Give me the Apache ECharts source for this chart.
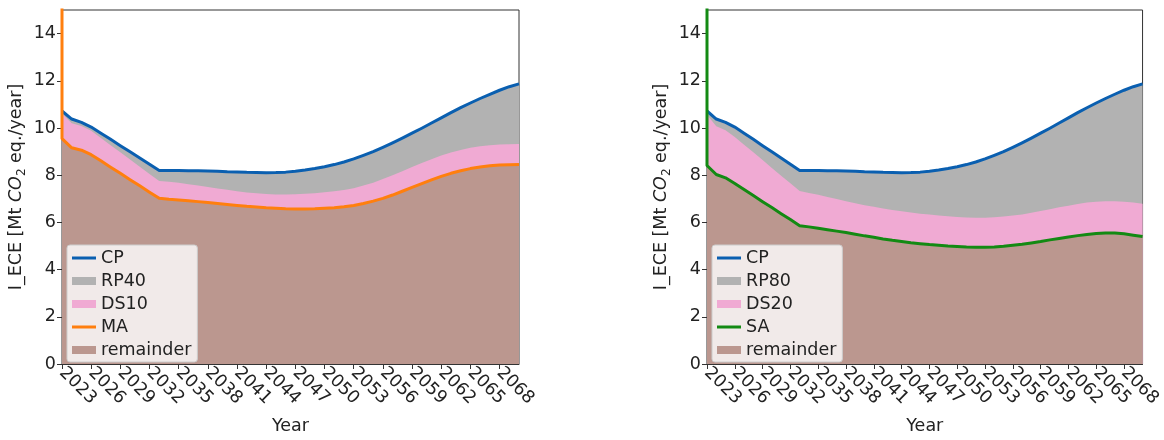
<!DOCTYPE html>
<html>
<head>
<meta charset="utf-8">
<script src="https://cdn.jsdelivr.net/npm/echarts@6/dist/echarts.min.js"></script>
<style>
  html, body { margin: 0; padding: 0; background: #fff; }
  #chart { width: 1164px; height: 440px; }
</style>
</head>
<body>
<div id="chart"></div>
<script>
// Annual emissions pathways, 2023-2070 (Mt CO2 eq./year)
const startYear = 2023;
const years = [2023, 2024, 2025, 2026, 2027, 2028, 2029, 2030, 2031, 2032,
               2033, 2034, 2035, 2036, 2037, 2038, 2039, 2040, 2041, 2042,
               2043, 2044, 2045, 2046, 2047, 2048, 2049, 2050, 2051, 2052,
               2053, 2054, 2055, 2056, 2057, 2058, 2059, 2060, 2061, 2062,
               2063, 2064, 2065, 2066, 2067, 2068, 2069, 2070];
const tickYears = [2023, 2026, 2029, 2032, 2035, 2038, 2041, 2044, 2047, 2050,
                   2053, 2056, 2059, 2062, 2065, 2068];
const yTicks = [0, 2, 4, 6, 8, 10, 12, 14];

// Current policy (total)
const cp = [10.72, 10.38, 10.24, 10.04, 9.78, 9.52, 9.25, 8.99, 8.73, 8.46,
            8.20, 8.20, 8.20, 8.19, 8.19, 8.18, 8.17, 8.15, 8.14, 8.12,
            8.11, 8.10, 8.11, 8.13, 8.17, 8.22, 8.28, 8.36, 8.45, 8.56,
            8.69, 8.84, 9.00, 9.18, 9.37, 9.57, 9.78, 9.99, 10.21, 10.43,
            10.65, 10.86, 11.06, 11.25, 11.43, 11.60, 11.75, 11.87];

// Left panel: upper edge of DS10 band and the MA pathway
const ds10Top = [10.60, 10.20, 10.08, 9.88, 9.58, 9.27, 8.97, 8.66, 8.36, 8.05,
                 7.75, 7.72, 7.68, 7.62, 7.56, 7.50, 7.44, 7.38, 7.32, 7.27,
                 7.23, 7.20, 7.18, 7.18, 7.19, 7.21, 7.24, 7.28, 7.32, 7.37,
                 7.45, 7.56, 7.68, 7.84, 8.00, 8.17, 8.35, 8.52, 8.68, 8.83,
                 8.96, 9.07, 9.16, 9.23, 9.27, 9.30, 9.31, 9.32];
const ma = [9.55, 9.16, 9.06, 8.87, 8.61, 8.34, 8.08, 7.81, 7.55, 7.28,
            7.02, 6.98, 6.95, 6.92, 6.88, 6.84, 6.80, 6.76, 6.72, 6.68,
            6.65, 6.62, 6.60, 6.58, 6.57, 6.57, 6.58, 6.60, 6.62, 6.66,
            6.72, 6.80, 6.90, 7.02, 7.16, 7.32, 7.48, 7.64, 7.80, 7.95,
            8.08, 8.19, 8.28, 8.35, 8.40, 8.43, 8.44, 8.45];

// Right panel: upper edge of DS20 band and the SA pathway
const ds20Top = [10.56, 10.07, 9.90, 9.62, 9.29, 8.97, 8.64, 8.31, 7.98, 7.66,
                 7.33, 7.25, 7.17, 7.08, 6.99, 6.90, 6.81, 6.73, 6.66, 6.59,
                 6.53, 6.47, 6.42, 6.37, 6.33, 6.29, 6.26, 6.23, 6.21, 6.20,
                 6.20, 6.22, 6.25, 6.29, 6.34, 6.41, 6.48, 6.56, 6.64, 6.71,
                 6.78, 6.84, 6.88, 6.90, 6.90, 6.88, 6.84, 6.79];
const sa = [8.41, 8.03, 7.89, 7.65, 7.39, 7.14, 6.88, 6.63, 6.37, 6.12,
            5.86, 5.81, 5.75, 5.69, 5.63, 5.57, 5.50, 5.43, 5.37, 5.30,
            5.24, 5.19, 5.14, 5.10, 5.06, 5.03, 5.00, 4.98, 4.96, 4.95,
            4.95, 4.96, 4.99, 5.03, 5.07, 5.13, 5.19, 5.26, 5.32, 5.38,
            5.44, 5.49, 5.53, 5.55, 5.55, 5.52, 5.46, 5.40];

// First-year value of the abatement pathways (runs off the top of the axis)
const initialPeak = 40;

const COLORS = {
  cp: '#0a5fb0',
  rp: '#b2b2b2',
  ds: '#f0aad3',
  rem: '#bb978f',
  ma: '#ff7f0e',
  sa: '#138a13'
};
const FONT = 'DejaVu Sans';
const FS = 17.5;
const TEXT = '#222';

const pts = (arr) => arr.map((v, i) => [years[i] - startYear, v]);
const withPeak = (arr) => [[0, initialPeak]].concat(pts(arr));

const tickOffsets = tickYears.map(y => y - startYear);
const yMax = 15;

function makeAxes(gridIndex) {
  const xAxis = {
    type: 'value', gridIndex,
    min: 0, max: years[years.length - 1] - startYear, interval: 3,
    name: 'Year', nameLocation: 'middle', nameGap: 53,
    nameTextStyle: { fontFamily: FONT, fontSize: FS, color: TEXT },
    axisLine: { show: true, lineStyle: { color: '#333', width: 1 } },
    axisTick: { show: true, length: 5, lineStyle: { color: '#333' },
      customValues: tickOffsets },
    axisLabel: {
      rotate: -45, margin: 6, fontFamily: FONT, fontSize: FS, color: TEXT,
      customValues: tickOffsets,
      formatter: v => String(v + startYear)
    },
    splitLine: { show: false }
  };
  const yAxis = {
    type: 'value', gridIndex,
    min: 0, max: yMax, interval: 2,
    name: '{a|I_ECE [Mt }{i|CO}{s|2}{a| eq./year]}',
    nameLocation: 'middle', nameGap: 34,
    nameTextStyle: {
      fontFamily: FONT, fontSize: FS, color: TEXT,
      rich: {
        a: { fontFamily: FONT, fontSize: FS, color: TEXT, lineHeight: 24 },
        i: { fontFamily: FONT, fontSize: FS, color: TEXT, fontStyle: 'italic', lineHeight: 24 },
        s: { fontFamily: FONT, fontSize: 12, color: TEXT, verticalAlign: 'bottom', lineHeight: 24 }
      }
    },
    axisLine: { show: true, lineStyle: { color: '#333', width: 1 } },
    axisTick: { show: true, length: 5, lineStyle: { color: '#333' }, customValues: yTicks },
    axisLabel: { margin: 6, fontFamily: FONT, fontSize: FS, color: TEXT, customValues: yTicks },
    splitLine: { show: false }
  };
  return { xAxis, yAxis };
}

function areaSeries(name, data, color, idx) {
  return {
    name, type: 'line', xAxisIndex: idx, yAxisIndex: idx,
    data: pts(data), symbol: 'none', smooth: false, silent: true,
    color, lineStyle: { width: 0, color },
    areaStyle: { color, opacity: 1, origin: 'start' },
    clip: true
  };
}
function lineSeries(name, data, color, idx) {
  return {
    name, type: 'line', xAxisIndex: idx, yAxisIndex: idx,
    data, symbol: 'none', smooth: false, silent: true,
    color, lineStyle: { width: 3, color, join: 'round' },
    clip: true
  };
}

const left = makeAxes(0);
const right = makeAxes(1);

const lineIcon = 'path://M0,0H24V3H0Z';
const rectIcon = 'path://M0,0H24V8H0Z';

function makeLegend(x, names) {
  return {
    orient: 'vertical', left: x, top: 245,
    itemWidth: 24, itemHeight: 16, itemGap: 5,
    padding: [4, 6, 3, 5],
    backgroundColor: 'rgba(255,255,255,0.8)',
    borderColor: '#cccccc', borderWidth: 1, borderRadius: 3,
    selectedMode: false,
    textStyle: { fontFamily: FONT, fontSize: FS, color: TEXT, padding: [0, 0, 0, 0] },
    itemStyle: { borderWidth: 0 },
    data: [
      { name: names[0], icon: lineIcon },
      { name: names[1], icon: rectIcon },
      { name: names[2], icon: rectIcon },
      { name: names[3], icon: lineIcon },
      { name: names[4], icon: rectIcon }
    ]
  };
}

const option = {
  animation: false,
  backgroundColor: '#ffffff',
  grid: [
    { left: 62, top: 10, width: 457, height: 356, show: true, borderColor: '#333', borderWidth: 1, backgroundColor: 'transparent' },
    { left: 707, top: 10, width: 456, height: 356, show: true, borderColor: '#333', borderWidth: 1, backgroundColor: 'transparent' }
  ],
  xAxis: [left.xAxis, right.xAxis],
  yAxis: [left.yAxis, right.yAxis],
  legend: [
    makeLegend(67, ['CP', 'RP40', 'DS10', 'MA', 'remainder']),
    makeLegend(712, ['CP', 'RP80', 'DS20', 'SA', 'remainder'])
  ],
  series: [
    areaSeries('RP40', cp, COLORS.rp, 0),
    areaSeries('DS10', ds10Top, COLORS.ds, 0),
    areaSeries('remainder', ma, COLORS.rem, 0),
    lineSeries('CP', pts(cp), COLORS.cp, 0),
    lineSeries('MA', withPeak(ma), COLORS.ma, 0),

    areaSeries('RP80', cp, COLORS.rp, 1),
    areaSeries('DS20', ds20Top, COLORS.ds, 1),
    areaSeries('remainder', sa, COLORS.rem, 1),
    lineSeries('CP', pts(cp), COLORS.cp, 1),
    lineSeries('SA', withPeak(sa), COLORS.sa, 1)
  ]
};

const chart = echarts.init(document.getElementById('chart'), null, { renderer: 'canvas' });
chart.setOption(option);
</script>
</body>
</html>
